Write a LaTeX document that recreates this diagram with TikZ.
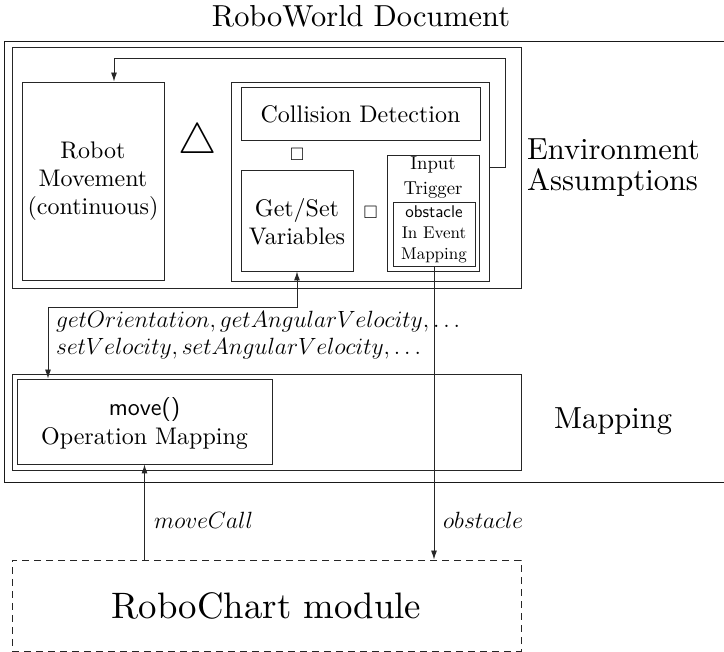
\RequirePackage{fix-cm}
\documentclass[tikz,border=0pt]{standalone}
\usepackage{amssymb}
\usepackage{fontspec}
\setmainfont{lmroman10}[Extension=.otf, UprightFont=*-regular, BoldFont=*-bold, ItalicFont=*-italic, BoldItalicFont=*-bolditalic]
\setsansfont{lmsans10}[Extension=.otf, UprightFont=*-regular, BoldFont=*-bold, ItalicFont=*-oblique, BoldItalicFont=*-boldoblique]
\usetikzlibrary{arrows.meta,calc}

\newcommand\fsz[2]{\fontsize{#1}{#2}\selectfont}

\begin{document}
\begin{tikzpicture}[x=1pt,y=-1pt,
  blk/.style={draw=black!85, rectangle, inner sep=0pt, line width=0.9pt},
  dashblk/.style={blk, dash pattern=on 7pt off 5pt},
  txt/.style={inner sep=0pt, align=center, font=\fsz{24}{28}},
  small/.style={inner sep=0pt, align=center, font=\fsz{17}{22}},
  big/.style={inner sep=0pt, align=left, font=\fsz{30.5}{31}},
  conn/.style={draw=black!85, line width=0.9pt, -{Latex[length=9pt,width=6pt]}},
  biconn/.style={draw=black!85, line width=0.9pt, {Latex[length=9pt,width=6pt]}-{Latex[length=9pt,width=6pt]}}]

\useasboundingbox (0,0) rectangle (724,652);

% title and document frame
\node[inner sep=0pt, anchor=base, font=\fsz{30.4}{36}] (title) at (361,27) {RoboWorld Document};
\draw[black!90, line width=0.9pt] (740,41) -- (4.5,41) -- (4.5,482) -- (740,482);

% environment assumptions
\node[blk, minimum width=509pt, minimum height=241pt] (env) at (266.5,167.5) {};
\node[blk, minimum width=142pt, minimum height=198pt] (robot) at (93,181) {};
\node[txt] (robottxt) at (93,181) {Robot\\Movement\\(continuous)};
\node[inner sep=0pt, font=\fsz{43}{46}] (par) at (197.5,142.5) {$\triangle$};

\node[blk, minimum width=258pt, minimum height=199pt] (comp) at (360,181.5) {};
\node[blk, minimum width=239pt, minimum height=53pt] (coll) at (360.5,113.5) {};
\node[txt] (colltxt) at (360.5,114) {Collision Detection};
\node[inner sep=0pt, font=\fsz{18}{20}] (sq1) at (297,154) {$\square$};

\node[blk, minimum width=112pt, minimum height=101pt] (getset) at (297,220.5) {};
\node[txt] (getsettxt) at (297,222) {Get/Set\\Variables};
\node[inner sep=0pt, font=\fsz{18}{20}] (sq2) at (370.5,212.5) {$\square$};

\node[blk, minimum width=92pt, minimum height=116pt] (trig) at (433,213) {};
\node[small, font=\fsz{18.7}{24.5}] (trigtxt) at (433,177.5) {Input\\Trigger};
\node[blk, minimum width=82pt, minimum height=64pt] (evmap) at (434,234) {};
\node[small, font=\fsz{17}{21}] (evmaptxt) at (434,234) {{\sffamily obstacle}\\In Event\\Mapping};

\node[big, anchor=west] (envlbl) at (527,168) {Environment\\Assumptions};

% feedback from the environment model to the movement
\coordinate (loopcorner) at (505,58);
\draw[conn] ([yshift=14.5pt]comp.east) -| (loopcorner) -| ([xshift=21pt]robot.north);

% mapping
\node[blk, minimum width=509pt, minimum height=96pt] (mapbox) at (266.5,422) {};
\node[blk, minimum width=255pt, minimum height=85pt] (op) at (144.5,421.5) {};
\node[txt, font=\fsz{24}{29}] (optxt) at (144.5,423) {{\sffamily move()}\\Operation Mapping};
\node[big, anchor=west] (maplbl) at (554,421) {Mapping};

% variable access between the environment and the mapping
\coordinate (opbend) at (48,307);
\draw[biconn] (getset.south) |- (opbend) -- (opbend |- op.north);
\node[txt, align=left, font=\fsz{23.5}{27}, anchor=west] (varlbl) at (56,335.5)
  {$getOrientation, getAngularVelocity, \ldots$\\$setVelocity, setAngularVelocity, \ldots$};

% RoboChart module and its events
\node[dashblk, minimum width=509pt, minimum height=91pt] (rc) at (266.5,605.5) {};
\node[inner sep=0pt, font=\fsz{36.8}{40}] (rctxt) at (266.5,606) {RoboChart module};

\draw[conn] (rc.north -| op.south) -- (op.south);
\node[txt, font=\fsz{23.5}{28}, anchor=west] (movelbl) at (154,520) {$moveCall$};
\draw[conn] (evmap.south) -- (evmap.south |- rc.north);
\node[txt, font=\fsz{23.5}{28}, anchor=west] (obslbl) at (443,520) {$obstacle$};
\end{tikzpicture}
\end{document}
